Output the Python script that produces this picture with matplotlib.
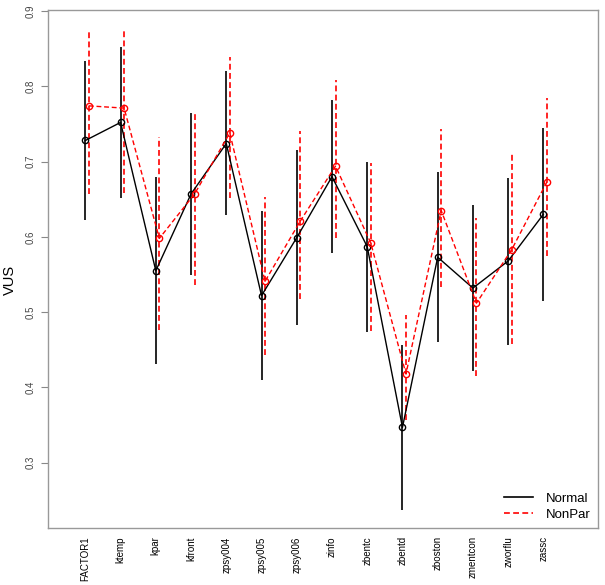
import matplotlib
matplotlib.use("Agg")
import matplotlib.pyplot as plt
import numpy as np
from matplotlib.lines import Line2D

plt.rcParams['font.family'] = ['Liberation Sans', 'DejaVu Sans']

categories = ["FACTOR1", "ktemp", "kpar", "kfront", "zpsy004", "zpsy005", "zpsy006",
              "zinfo", "zbentc", "zbentd", "zboston", "zmentcon", "zworflu", "zassc"]

normal_est = [0.728, 0.752, 0.555, 0.657, 0.724, 0.522, 0.599, 0.680, 0.587, 0.347, 0.573, 0.532, 0.568, 0.630]
normal_lo  = [0.623, 0.651, 0.431, 0.549, 0.629, 0.410, 0.483, 0.578, 0.474, 0.237, 0.460, 0.422, 0.457, 0.515]
normal_hi  = [0.833, 0.852, 0.679, 0.765, 0.820, 0.635, 0.715, 0.782, 0.700, 0.457, 0.686, 0.643, 0.678, 0.745]

nonpar_est = [0.774, 0.771, 0.598, 0.657, 0.738, 0.541, 0.621, 0.694, 0.592, 0.418, 0.635, 0.512, 0.583, 0.673]
nonpar_lo  = [0.657, 0.658, 0.477, 0.536, 0.651, 0.443, 0.518, 0.598, 0.475, 0.357, 0.534, 0.415, 0.458, 0.575]
nonpar_hi  = [0.876, 0.878, 0.733, 0.767, 0.839, 0.653, 0.741, 0.808, 0.698, 0.496, 0.743, 0.625, 0.712, 0.784]

yticks = [0.3, 0.4, 0.5, 0.6, 0.7, 0.8, 0.9]

fig = plt.figure(figsize=(6.05, 5.85), dpi=100)
ax = fig.add_axes([48/605, 1 - 528/585, 550/605, 518/585])

x = np.arange(1, len(categories) + 1)
xr = x + 0.1
dash = (0, (3.5, 2.0))

ax.vlines(x, normal_lo, normal_hi, colors='black', linewidth=1.2, zorder=2)
ax.vlines(xr, nonpar_lo, nonpar_hi, colors='red', linewidth=1.2, linestyles=dash, zorder=2)
ax.plot(x, normal_est, color='black', linewidth=1.0, marker='o', markersize=4.5,
        markerfacecolor='none', markeredgecolor='black', markeredgewidth=1.0, zorder=3)
ax.plot(xr, nonpar_est, color='red', linewidth=1.0, linestyle=dash, marker='o', markersize=4.5,
        markerfacecolor='none', markeredgecolor='red', markeredgewidth=1.0, zorder=3)

ax.set_xlim(-0.06, 15.55)
ax.set_ylim(0.2134, 0.9013)

ax.set_xticks(x)
ax.set_xticklabels(categories, rotation=90, fontsize=7)
ax.tick_params(axis='x', length=0, pad=6)
ax.set_yticks(yticks)
ax.set_yticklabels([str(v) for v in yticks], rotation=90, fontsize=7, color='#444444', va='center')
ax.tick_params(axis='y', length=5, color='#888888', pad=4)

for s in ax.spines.values():
    s.set_color('#999999')
    s.set_linewidth(1.0)

fig.text(10/605, 1 - 280/585, 'VUS', rotation=90, fontsize=10.5, ha='center', va='center')

handles = [Line2D([0], [0], color='black', linewidth=1.2),
           Line2D([0], [0], color='red', linewidth=1.2, linestyle=dash)]
ax.legend(handles, ['Normal', 'NonPar'], loc='lower right', frameon=False, fontsize=9.5,
          handlelength=2.2, handletextpad=1.0, labelspacing=0.3, borderaxespad=0.15)

fig.savefig('out.png', dpi=100)
